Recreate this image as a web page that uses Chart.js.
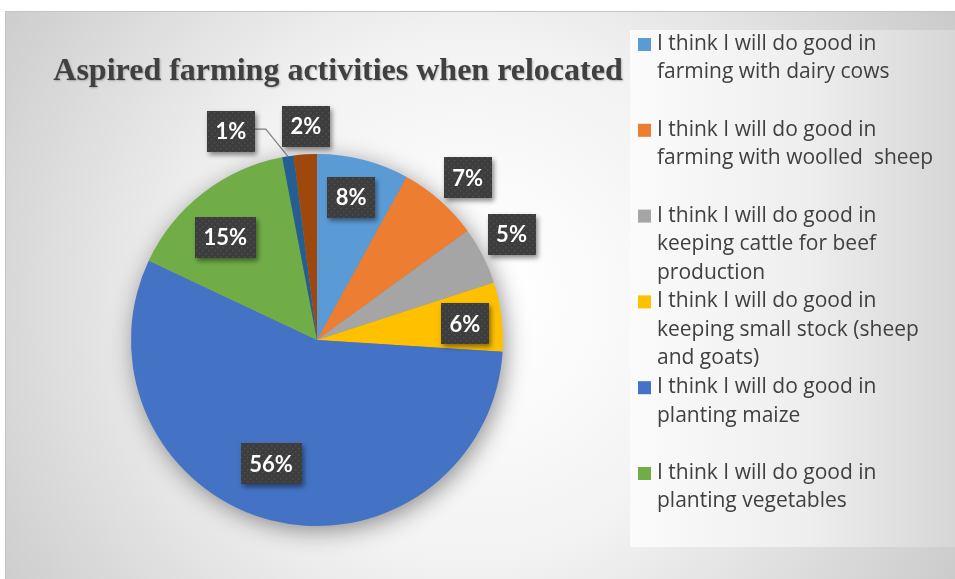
<!DOCTYPE html>
<html>
<head>
<meta charset="utf-8">
<script src="https://cdn.jsdelivr.net/npm/chart.js@4"></script>
<style>
  html,body{margin:0;padding:0;background:#fff}
  #wrap{width:955px;height:579px;position:relative}
</style>
</head>
<body>
<div id="wrap"><canvas id="pie"></canvas></div>
<script>
const chartTitle='Aspired farming activities when relocated';
const categories=[
  'I think I will do good in farming with dairy cows',
  'I think I will do good in farming with woolled  sheep',
  'I think I will do good in keeping cattle for beef production',
  'I think I will do good in keeping small stock (sheep and goats)',
  'I think I will do good in planting maize',
  'I think I will do good in planting vegetables',
  'Other activity 1',
  'Other activity 2'
];
const shares=[8,7,5,6,56,15,1,2];
const sliceColors=['#5B9BD5','#ED7D31','#A5A5A5','#FFC000','#4472C4','#70AD47','#255E91','#9E480E'];

// tag placement per slice: fraction of radius, angle nudge (deg), leader line
const tagSpots=[
  {r:0.79,da:-1},
  {r:1.19,da:1.5},
  {r:1.19,da:-1.5},
  {r:0.80,da:1},
  {r:0.71,da:6},
  {r:0.74,da:-4},
  {r:1.215,da:-13.4,leader:true},
  {r:1.15,da:0.6}
];

const TEXT='#404040';

function wrapWords(ctx,text,maxW){
  const words=text.split(' ');
  const lines=[];let cur='';
  words.forEach(w=>{
    const t=cur===''?w:cur+' '+w;
    if(cur!==''&&ctx.measureText(t).width>maxW){lines.push(cur);cur=w;}
    else cur=t;
  });
  if(cur!=='')lines.push(cur);
  return lines;
}

// little dotted texture for the value tags
function dotPattern(ctx){
  const c=document.createElement('canvas');c.width=6;c.height=6;
  const g=c.getContext('2d');
  g.fillStyle='#3d3d3d';g.fillRect(0,0,6,6);
  g.fillStyle='rgba(255,255,255,0.10)';g.fillRect(1,1,1.5,1.5);g.fillRect(4,4,1.5,1.5);
  return ctx.createPattern(c,'repeat');
}

const backdrop={
  id:'backdrop',
  beforeDraw(chart){
    const ctx=chart.ctx;
    ctx.save();
    ctx.fillStyle='#fff';ctx.fillRect(0,0,955,579);
    const g=ctx.createRadialGradient(470,300,40,470,300,600);
    g.addColorStop(0,'#ffffff');g.addColorStop(0.4,'#f2f2f2');g.addColorStop(1,'#c6c6c6');
    ctx.fillStyle=g;ctx.fillRect(5,11,950,568);
    ctx.strokeStyle='#c4c4c4';ctx.lineWidth=1;
    ctx.beginPath();ctx.moveTo(5,11.5);ctx.lineTo(955,11.5);ctx.moveTo(5.5,11);ctx.lineTo(5.5,579);ctx.stroke();
    // legend panel
    const lg=ctx.createLinearGradient(630,0,955,0);
    lg.addColorStop(0,'#fbfbfb');lg.addColorStop(0.55,'#eeeeee');lg.addColorStop(1,'#d6d6d6');
    ctx.fillStyle=lg;ctx.fillRect(630,30,325,517);
    ctx.restore();
  }
};

const pieShadow={
  id:'pieShadow',
  beforeDatasetsDraw(chart){
    const a=chart.getDatasetMeta(0).data[0];
    if(!a)return;
    const ctx=chart.ctx;
    ctx.save();
    ctx.shadowColor='rgba(0,0,0,0.45)';ctx.shadowBlur=24;ctx.shadowOffsetX=3;ctx.shadowOffsetY=5;
    ctx.fillStyle='#888';
    ctx.beginPath();ctx.arc(a.x,a.y,a.outerRadius-1,0,Math.PI*2);ctx.fill();
    ctx.restore();
  }
};

const valueTags={
  id:'valueTags',
  afterDatasetsDraw(chart){
    const ctx=chart.ctx;
    const pat=dotPattern(ctx);
    chart.getDatasetMeta(0).data.forEach((arc,i)=>{
      const s=tagSpots[i];
      const R=arc.outerRadius;
      const mid=(arc.startAngle+arc.endAngle)/2;
      const ang=mid+s.da*Math.PI/180;
      const x=arc.x+Math.cos(ang)*R*s.r, y=arc.y+Math.sin(ang)*R*s.r;
      const txt=shares[i]+'%';
      ctx.save();
      ctx.font='bold 22px Lato';
      const w=ctx.measureText(txt).width+17, h=41;
      if(s.leader){
        ctx.strokeStyle='#7f7f7f';ctx.lineWidth=1.2;
        ctx.beginPath();
        ctx.moveTo(x+w/2,y-2);ctx.lineTo(x+w/2+11,y-2);
        ctx.lineTo(arc.x+Math.cos(mid)*R,arc.y+Math.sin(mid)*R);
        ctx.stroke();
      }
      ctx.shadowColor='rgba(0,0,0,0.45)';ctx.shadowBlur=5;ctx.shadowOffsetX=2;ctx.shadowOffsetY=3;
      ctx.fillStyle=pat;
      ctx.fillRect(Math.round(x-w/2),Math.round(y-h/2),Math.round(w),h);
      ctx.shadowColor='transparent';
      ctx.fillStyle='#fff';ctx.textAlign='center';ctx.textBaseline='middle';
      ctx.fillText(txt,x,y+1);
      ctx.restore();
    });
  }
};

const sideText={
  id:'sideText',
  afterDraw(chart){
    const ctx=chart.ctx;
    ctx.save();
    ctx.fillStyle=TEXT;
    ctx.font='bold 32px "Liberation Serif"';
    ctx.textAlign='center';ctx.textBaseline='alphabetic';
    ctx.shadowColor='rgba(0,0,0,0.25)';ctx.shadowBlur=2;ctx.shadowOffsetX=1;ctx.shadowOffsetY=1;
    ctx.fillText(chartTitle,338,80);
    ctx.restore();

    ctx.save();
    ctx.font='21px "Open Sans"';ctx.textBaseline='middle';ctx.textAlign='left';
    const slot=85.8, lineH=28.5, top=44;
    categories.forEach((c,i)=>{
      const y0=top+i*slot;
      if(y0>540)return;
      ctx.fillStyle=sliceColors[i];
      ctx.fillRect(638,y0-6,13,13);
      ctx.fillStyle=TEXT;
      wrapWords(ctx,c,285).forEach((ln,k)=>ctx.fillText(ln,657,y0+k*lineH));
    });
    ctx.restore();
  }
};

new Chart(document.getElementById('pie'),{
  type:'pie',
  data:{labels:categories,datasets:[{data:shares,backgroundColor:sliceColors,borderWidth:0}]},
  options:{
    responsive:true,maintainAspectRatio:false,animation:false,
    layout:{padding:{left:131,right:452,top:154,bottom:53}},
    plugins:{legend:{display:false},tooltip:{enabled:false}}
  },
  plugins:[backdrop,pieShadow,valueTags,sideText]
});
</script>
</body>
</html>
